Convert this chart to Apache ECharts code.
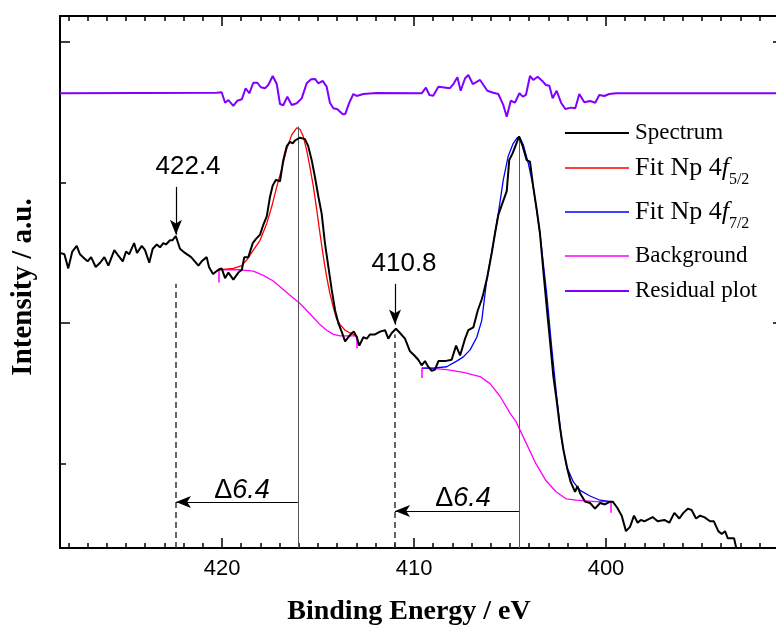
<!DOCTYPE html>
<html><head><meta charset="utf-8">
<script src="https://cdn.jsdelivr.net/npm/echarts@6/dist/echarts.min.js"></script>
<style>html,body{margin:0;padding:0;background:#fff}#c{width:776px;height:630px}</style>
</head><body><div id="c"></div>
<script>
// Binding energy (eV) / intensity (a.u.) pairs
const spectrum = [[428.44,2.50],[428.21,2.49],[428.01,2.39],[427.80,2.51],[427.57,2.55],[427.40,2.49],[427.17,2.46],[427.00,2.44],[426.82,2.47],[426.58,2.40],[426.35,2.43],[426.13,2.47],[425.92,2.41],[425.61,2.52],[425.40,2.48],[425.17,2.44],[425.00,2.51],[424.84,2.49],[424.58,2.57],[424.43,2.50],[424.18,2.55],[424.01,2.52],[423.79,2.43],[423.61,2.53],[423.40,2.56],[423.23,2.54],[423.06,2.57],[422.92,2.56],[422.71,2.59],[422.59,2.59],[422.41,2.62],[422.19,2.53],[421.93,2.50],[421.61,2.47],[421.23,2.41],[421.06,2.44],[420.80,2.47],[420.68,2.40],[420.47,2.35],[420.19,2.38],[420.02,2.39],[419.84,2.32],[419.67,2.36],[419.41,2.31],[419.15,2.36],[418.97,2.38],[418.84,2.47],[418.63,2.47],[418.40,2.57],[418.23,2.60],[418.02,2.63],[417.85,2.70],[417.67,2.76],[417.50,2.90],[417.36,2.98],[417.19,3.02],[416.98,3.01],[416.81,3.16],[416.63,3.26],[416.46,3.29],[416.32,3.28],[416.20,3.30],[415.94,3.32],[415.68,3.31],[415.51,3.26],[415.33,3.16],[415.16,3.04],[414.98,2.90],[414.81,2.78],[414.64,2.57],[414.46,2.40],[414.29,2.24],[414.11,2.09],[413.94,2.00],[413.77,1.94],[413.59,1.87],[413.42,1.90],[413.24,1.93],[413.13,1.94],[412.98,1.90],[412.85,1.84],[412.64,1.90],[412.46,1.89],[412.29,1.92],[412.03,1.92],[411.77,1.94],[411.51,1.95],[411.34,1.89],[411.16,1.93],[410.94,1.96],[410.73,1.93],[410.47,1.89],[410.21,1.80],[409.98,1.77],[409.78,1.74],[409.60,1.70],[409.43,1.73],[409.26,1.69],[409.08,1.66],[408.91,1.67],[408.73,1.73],[408.39,1.73],[408.04,1.74],[407.81,1.84],[407.60,1.77],[407.34,1.89],[407.17,1.95],[406.91,1.97],[406.68,2.09],[406.47,2.17],[406.39,2.21],[406.18,2.33],[405.95,2.50],[405.78,2.64],[405.61,2.77],[405.43,2.84],[405.17,2.94],[405.04,3.16],[404.86,3.21],[404.69,3.27],[404.53,3.33],[404.34,3.26],[404.13,3.16],[403.96,3.15],[403.79,2.97],[403.61,2.81],[403.44,2.64],[403.27,2.38],[403.09,2.12],[402.92,1.88],[402.74,1.62],[402.57,1.45],[402.40,1.26],[402.22,1.10],[402.01,0.96],[401.84,0.87],[401.61,0.80],[401.49,0.84],[401.35,0.79],[401.09,0.73],[400.83,0.72],[400.57,0.68],[400.31,0.72],[400.05,0.71],[399.79,0.73],[399.65,0.73],[399.43,0.69],[399.18,0.63],[398.96,0.52],[398.75,0.55],[398.54,0.63],[398.35,0.58],[398.19,0.60],[398.00,0.59],[397.57,0.62],[397.31,0.59],[396.96,0.60],[396.70,0.58],[396.44,0.65],[396.18,0.61],[395.97,0.65],[395.74,0.68],[395.54,0.67],[395.31,0.61],[395.10,0.63],[394.88,0.62],[394.58,0.59],[394.38,0.59],[394.15,0.52],[393.97,0.50],[393.80,0.52],[393.66,0.47],[393.33,0.47],[393.15,0.36]];
const fit52 = [[420.19,2.38],[419.41,2.39],[418.97,2.41],[418.71,2.45],[418.37,2.52],[418.02,2.59],[417.67,2.71],[417.41,2.83],[417.15,2.97],[416.89,3.10],[416.63,3.24],[416.37,3.34],[416.11,3.39],[415.94,3.38],[415.77,3.33],[415.59,3.23],[415.42,3.11],[415.24,2.97],[415.07,2.81],[414.90,2.64],[414.72,2.47],[414.55,2.33],[414.38,2.21],[414.20,2.11],[414.03,2.03],[413.85,1.99],[413.59,1.95],[413.33,1.93],[412.99,1.91]];
const fit72 = [[409.60,1.68],[409.01,1.68],[408.30,1.69],[407.78,1.73],[407.43,1.76],[407.08,1.81],[406.73,1.90],[406.47,2.02],[406.21,2.31],[405.87,2.57],[405.61,2.78],[405.35,3.02],[405.09,3.19],[404.83,3.28],[404.62,3.32],[404.48,3.32],[404.31,3.27],[404.05,3.14],[403.79,2.97],[403.44,2.64],[403.09,2.21],[402.83,1.83],[402.57,1.48],[402.31,1.17],[402.05,0.98],[401.70,0.87],[401.35,0.81],[400.83,0.77],[400.31,0.74],[399.74,0.73]];
const background1 = [[420.19,2.38],[419.06,2.38],[418.37,2.37],[417.85,2.34],[417.33,2.30],[416.81,2.24],[416.29,2.18],[415.94,2.14],[415.59,2.09],[415.24,2.04],[414.90,1.99],[414.55,1.95],[414.20,1.92],[413.85,1.91],[412.99,1.91]];
const background2 = [[409.60,1.68],[409.17,1.68],[408.30,1.67],[407.43,1.65],[406.56,1.62],[406.04,1.57],[405.52,1.48],[405.00,1.36],[404.69,1.30],[404.17,1.15],[403.65,1.00],[403.13,0.88],[402.60,0.80],[402.08,0.75],[401.56,0.74],[400.52,0.73],[399.74,0.73]];
const residual = [[428.44,3.636],[420.28,3.640],[420.02,3.643],[419.84,3.569],[419.67,3.588],[419.41,3.546],[419.20,3.583],[418.97,3.593],[418.77,3.672],[418.58,3.636],[418.37,3.711],[418.16,3.711],[417.98,3.679],[417.76,3.672],[417.59,3.695],[417.36,3.759],[417.15,3.702],[416.98,3.560],[416.81,3.551],[416.60,3.612],[416.37,3.553],[416.11,3.565],[415.85,3.600],[415.59,3.707],[415.36,3.736],[415.16,3.738],[414.98,3.707],[414.76,3.724],[414.55,3.683],[414.38,3.569],[414.20,3.529],[413.99,3.522],[413.71,3.487],[413.58,3.489],[413.37,3.569],[413.16,3.631],[412.99,3.617],[412.64,3.631],[411.95,3.638],[409.60,3.636],[409.38,3.676],[409.20,3.624],[409.00,3.619],[408.73,3.683],[408.13,3.672],[407.95,3.702],[407.74,3.750],[407.57,3.654],[407.34,3.743],[407.17,3.766],[406.94,3.702],[406.56,3.731],[406.18,3.654],[405.87,3.640],[405.61,3.631],[405.35,3.553],[405.17,3.469],[404.96,3.583],[404.74,3.569],[404.51,3.636],[404.33,3.612],[404.17,3.624],[403.96,3.759],[403.79,3.731],[403.56,3.754],[403.33,3.726],[403.13,3.695],[402.95,3.690],[402.78,3.600],[402.57,3.654],[402.34,3.569],[402.12,3.524],[401.82,3.534],[401.60,3.529],[401.39,3.631],[401.13,3.572],[400.83,3.581],[400.56,3.569],[400.35,3.624],[400.09,3.617],[399.83,3.631],[399.48,3.636],[390.78,3.636]];

// Axis ranges and ticks
const xMin = 390.78, xMax = 428.44;
const yMin = 0.4, yMax = 4.186;
const xMajorTicks = [400, 410, 420];
const xMinorTicks = [391,392,393,394,395,396,397,398,399,401,402,403,404,405,406,407,408,409,411,412,413,414,415,416,417,418,419,421,422,423,424,425,426,427,428];
const yMajorTicks = [2, 4];
const yMinorTicks = [1, 3];

// Annotations
const peakLines = [[416.05, 3.40], [404.53, 3.33]];          // solid verticals from baseline to peak
const dashLines = [[422.4, 2.28], [410.99, 1.92]];           // dashed verticals from baseline
const downArrows = [[422.4, 2.97, 2.63], [410.99, 2.28, 1.99]]; // E, from I, to I
const splitArrows = [[416.05, 422.4, 0.727], [404.53, 410.99, 0.663]]; // from E, to E, I
const rangeMarks = [[420.19, 2.38, 2.29], [412.99, 1.91, 1.82], [409.60, 1.68, 1.61], [399.74, 0.73, 0.65]];
const annotText = ['422.4', '410.8', 'Δ6.4', 'Δ6.4'];
const annotE = [421.77, 410.52, 418.96, 407.45];
const annotI = [3.11, 2.42, 0.81, 0.75];

const SERIF = 'Liberation Serif', SANS = 'Liberation Sans';

const markLineData = [];
peakLines.forEach(p => markLineData.push([{coord:[p[0], yMin], symbol:'none', lineStyle:{color:'#555', width:1, type:'solid'}}, {coord:[p[0], p[1]], symbol:'none'}]));
dashLines.forEach(p => markLineData.push([{coord:[p[0], yMin], symbol:'none', lineStyle:{color:'#333', width:1.5, type:[6,4]}}, {coord:[p[0], p[1]], symbol:'none'}]));
downArrows.forEach(p => markLineData.push([{coord:[p[0], p[1]], symbol:'none', lineStyle:{color:'#000', width:1.2, type:'solid'}}, {coord:[p[0], p[2]], symbol:'arrow', symbolSize:[9,15]}]));
splitArrows.forEach(p => markLineData.push([{coord:[p[0], p[2]], symbol:'none', lineStyle:{color:'#000', width:1, type:'solid'}}, {coord:[p[1], p[2]], symbol:'arrow', symbolSize:[9,15]}]));

const rangeMarkData = [];
rangeMarks.forEach(p => rangeMarkData.push([{coord:[p[0], p[1]], symbol:'none'}, {coord:[p[0], p[2]], symbol:'none'}]));

const fmtRich = n => {
  if (n === 'Fit Np 4f5/2') return '{a|Fit Np 4}{i|f}{s|5/2}';
  if (n === 'Fit Np 4f7/2') return '{a|Fit Np 4}{i|f}{s|7/2}';
  return n;
};
const legendRich = {
  a: {fontFamily: SERIF, fontSize: 26, lineHeight: 28, color:'#000'},
  i: {fontFamily: SERIF, fontSize: 26, lineHeight: 28, fontStyle:'italic', color:'#000'},
  s: {fontFamily: SERIF, fontSize: 16, lineHeight: 16, padding:[24,0,0,0], color:'#000'}
};
function mkLegend(name, centerY, h, thick) {
  return {
    data:[name], left:565, top: centerY - h/2, padding:0, itemWidth:64, itemHeight:thick, itemGap:0,
    selectedMode:false, icon:'rect',
    formatter: fmtRich,
    textStyle:{fontFamily: SERIF, fontSize: 23, lineHeight: 26, color:'#000', padding:[0,0,0,1], rich: legendRich}
  };
}

const chart = echarts.init(document.getElementById('c'), null, {renderer:'canvas'});
const tickMajor = {inside:true, length:10, lineStyle:{color:'#000', width:1.5}};
const tickMinor = {inside:true, length:5, lineStyle:{color:'#000', width:1.5}};
const baseX = {type:'value', min:xMin, max:xMax, inverse:true, splitLine:{show:false}};
const baseY = {type:'value', min:yMin, max:yMax, splitLine:{show:false}};

chart.setOption({
  animation:false,
  backgroundColor:'#fff',
  grid:{left:60, top:16, width:723, height:532, containLabel:false, outerBoundsMode:'none'},
  legend:[
    mkLegend('Spectrum', 133, 26, 2),
    mkLegend('Fit Np 4f5/2', 168, 40, 1.5),
    mkLegend('Fit Np 4f7/2', 212, 40, 1.5),
    mkLegend('Background', 256, 26, 1.5),
    mkLegend('Residual plot', 291, 26, 2)
  ],
  xAxis:[
    Object.assign({}, baseX, {position:'bottom',
      axisLine:{show:true, lineStyle:{color:'#000', width:2}},
      axisTick:Object.assign({customValues:xMajorTicks}, tickMajor),
      axisLabel:{customValues:xMajorTicks, color:'#000', fontFamily:SANS, fontSize:22, margin:10},
      name:'Binding Energy / eV', nameLocation:'middle', nameGap:50,
      nameTextStyle:{fontFamily:SERIF, fontWeight:'bold', fontSize:28, color:'#000', padding:[0,25,0,0]}}),
    Object.assign({}, baseX, {position:'bottom', axisLine:{show:false},
      axisTick:Object.assign({customValues:xMinorTicks}, tickMinor), axisLabel:{show:false}}),
    Object.assign({}, baseX, {position:'top',
      axisLine:{show:true, lineStyle:{color:'#000', width:2}},
      axisTick:Object.assign({customValues:xMajorTicks}, tickMajor), axisLabel:{show:false}}),
    Object.assign({}, baseX, {position:'top', axisLine:{show:false},
      axisTick:Object.assign({customValues:xMinorTicks}, tickMinor), axisLabel:{show:false}})
  ],
  yAxis:[
    Object.assign({}, baseY, {position:'left',
      axisLine:{show:true, lineStyle:{color:'#000', width:2}},
      axisTick:Object.assign({customValues:yMajorTicks}, tickMajor), axisLabel:{show:false},
      name:'Intensity / a.u.', nameLocation:'middle', nameGap:22,
      nameTextStyle:{fontFamily:SERIF, fontWeight:'bold', fontSize:29, color:'#000', padding:[0,10,0,0]}}),
    Object.assign({}, baseY, {position:'left', axisLine:{show:false},
      axisTick:{customValues:yMinorTicks, inside:true, length:6, lineStyle:{color:'#000', width:1.5}}, axisLabel:{show:false}}),
    Object.assign({}, baseY, {position:'right',
      axisLine:{show:true, lineStyle:{color:'#000', width:2}},
      axisTick:Object.assign({customValues:yMajorTicks}, tickMajor), axisLabel:{show:false}})
  ],
  series:[
    {name:'Background', type:'line', data:background1, symbol:'none', color:'#ff00ff', lineStyle:{width:1.3, color:'#ff00ff'}, z:3,
      markLine:{silent:true, symbol:'none', label:{show:false}, lineStyle:{color:'#ff00ff', width:1.5, type:'solid'}, data:rangeMarkData}},
    {name:'Background', type:'line', data:background2, symbol:'none', color:'#ff00ff', lineStyle:{width:1.3, color:'#ff00ff'}, z:3},
    {name:'Fit Np 4f5/2', type:'line', data:fit52, symbol:'none', color:'#ff0000', lineStyle:{width:1.3, color:'#ff0000'}, z:4},
    {name:'Fit Np 4f7/2', type:'line', data:fit72, symbol:'none', color:'#0000ff', lineStyle:{width:1.3, color:'#0000ff'}, z:4},
    {name:'Spectrum', type:'line', data:spectrum, symbol:'none', color:'#000', lineStyle:{width:2, color:'#000'}, z:5, clip:true,
      markLine:{silent:true, label:{show:false}, emphasis:{disabled:true}, data:markLineData}},
    {name:'Residual plot', type:'line', data:residual, symbol:'none', color:'#8000ff', lineStyle:{width:2, color:'#8000ff'}, z:5},
    {name:'annot', type:'scatter', symbolSize:0, silent:true, z:6, itemStyle:{opacity:1},
      data: annotText.map((t,k) => ({name:t, value:[annotE[k], annotI[k]]})),
      label:{show:true, position:'inside', color:'#000', opacity:1, fontFamily:SANS, fontSize:26,
        formatter: p => p.name.charAt(0) === 'Δ' ? '{d|Δ}{i|' + p.name.slice(1) + '}' : p.name,
        rich:{d:{fontFamily:SANS, fontSize:27, color:'#000'}, i:{fontFamily:SANS, fontSize:27, fontStyle:'italic', color:'#000'}}}}
  ]
});
</script>
</body></html>
